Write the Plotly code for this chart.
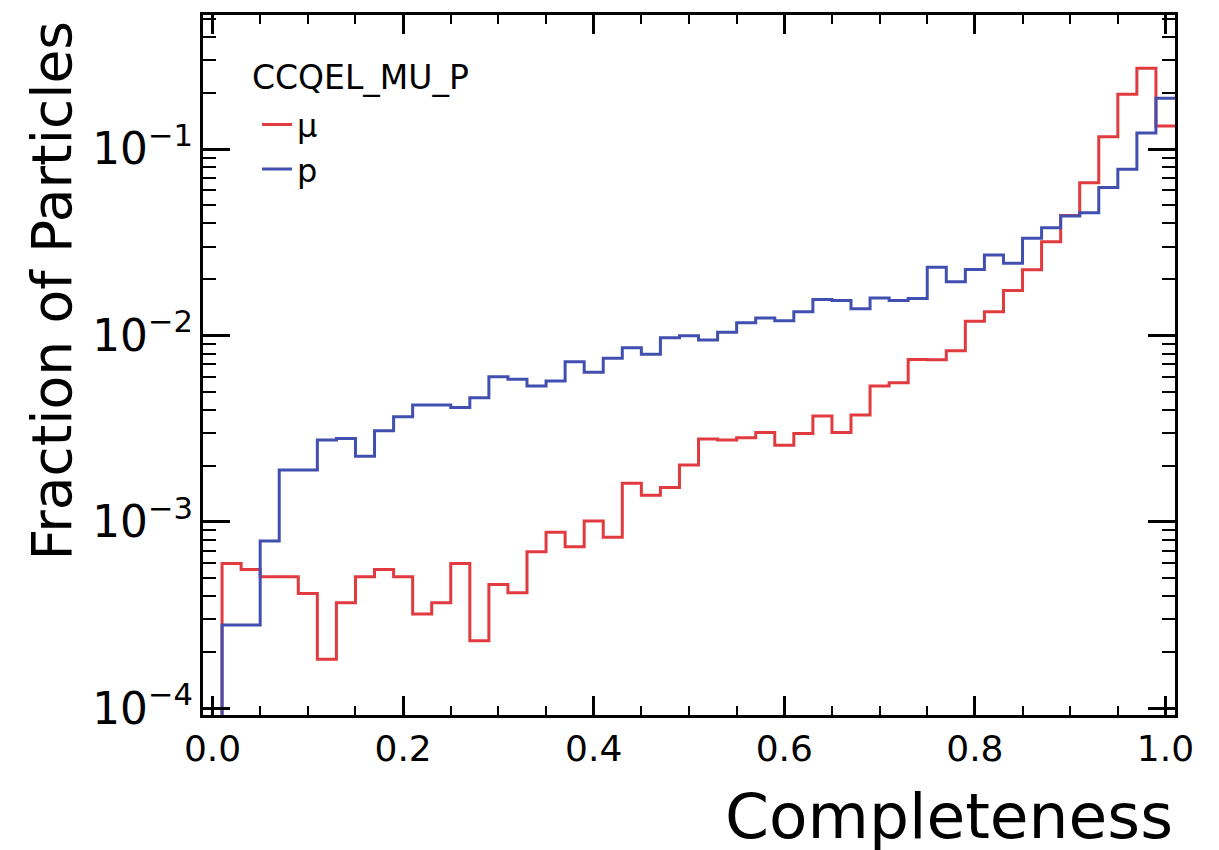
import plotly.graph_objects as go

# ---- data ----
bin_width = 0.02
bin_centers = [round(i * bin_width, 2) for i in range(51)]

mu_fraction = [
    0, 5.98e-4, 5.56e-4, 5.07e-4, 5.07e-4, 4.13e-4, 1.83e-4, 3.68e-4, 5.07e-4, 5.56e-4,
    5.07e-4, 3.2e-4, 3.68e-4, 5.98e-4, 2.3e-4, 4.62e-4, 4.17e-4, 6.92e-4, 8.79e-4, 7.35e-4,
    1.01e-3, 8.26e-4, 1.61e-3, 1.39e-3, 1.53e-3, 2.02e-3, 2.78e-3, 2.75e-3, 2.83e-3, 3.02e-3,
    2.58e-3, 2.98e-3, 3.70e-3, 3.02e-3, 3.74e-3, 5.36e-3, 5.58e-3, 7.44e-3, 7.4e-3, 8.28e-3,
    1.19e-2, 1.34e-2, 1.74e-2, 2.25e-2, 3.18e-2, 4.4e-2, 6.59e-2, 0.1165, 0.197, 0.271,
    0.133,
]
p_fraction = [
    0, 2.8e-4, 2.8e-4, 7.9e-4, 1.9e-3, 1.9e-3, 2.75e-3, 2.8e-3, 2.25e-3, 3.08e-3,
    3.66e-3, 4.24e-3, 4.24e-3, 4.11e-3, 4.63e-3, 6.0e-3, 5.83e-3, 5.36e-3, 5.69e-3, 7.23e-3,
    6.34e-3, 7.54e-3, 8.59e-3, 7.94e-3, 9.72e-3, 9.96e-3, 9.45e-3, 1.04e-2, 1.17e-2, 1.24e-2,
    1.20e-2, 1.34e-2, 1.56e-2, 1.54e-2, 1.39e-2, 1.59e-2, 1.54e-2, 1.58e-2, 2.32e-2, 1.94e-2,
    2.26e-2, 2.70e-2, 2.44e-2, 3.32e-2, 3.78e-2, 4.37e-2, 4.55e-2, 6.22e-2, 7.78e-2, 0.122,
    0.187,
]

x_tick_vals = [0.0, 0.2, 0.4, 0.6, 0.8, 1.0]
x_tick_text = ["0.0", "0.2", "0.4", "0.6", "0.8", "1.0"]

legend_title = "CCQEL_MU_P"
series_names = ["\u03bc", "p"]
series_colors = ["#e23b3f", "#4150b0"]

x_title = "Completeness"
y_title = "Fraction of Particles"

# ---- geometry / style ----
X_RANGE = [-0.01, 1.01]
Y_RANGE = [-4.036, -0.281]   # log10 units
FLOOR = 10 ** (Y_RANGE[0] - 1)
FONT = "DejaVu Sans"


def step_xy(centers, values):
    edges = [c - bin_width / 2 for c in centers] + [centers[-1] + bin_width / 2]
    vals = [v if v > 0 else FLOOR for v in values]
    return edges, vals + [vals[-1]]


fig = go.Figure()
for name, vals, col in zip(series_names, [mu_fraction, p_fraction], series_colors):
    xs, ys = step_xy(bin_centers, vals)
    fig.add_trace(go.Scatter(
        x=xs, y=ys, mode="lines", name=name,
        line=dict(color=col, width=3, shape="hv"),
    ))

axis_common = dict(
    showgrid=False, zeroline=False,
    showline=True, linecolor="black", linewidth=3, mirror="allticks",
    ticks="inside", tickcolor="black", tickwidth=2.5,
    automargin=False,
)

fig.update_xaxes(
    range=X_RANGE, tickvals=x_tick_vals, ticktext=x_tick_text, ticklen=19,
    ticklabelstandoff=0,
    tickfont=dict(family=FONT, size=36, color="black"),
    minor=dict(dtick=0.05, ticks="inside", ticklen=9, tickwidth=2, tickcolor="black"),
    **axis_common,
)
fig.update_yaxes(
    type="log", range=Y_RANGE, dtick=1, exponentformat="power", ticklen=27,
    ticklabelstandoff=0,
    tickfont=dict(family=FONT, size=35, color="black"),
    minor=dict(dtick="D1", ticks="inside", ticklen=13, tickwidth=2, tickcolor="black"),
    **axis_common,
)

# page body adds an 8px offset; the figure is sized to fit inside the window
fig.update_layout(
    width=1211, height=842,
    margin=dict(l=195, r=44, t=7, b=135),
    paper_bgcolor="white", plot_bgcolor="white",
    font=dict(family=FONT, color="black"),
    showlegend=True,
    legend=dict(
        x=0.0556, y=0.8826, xanchor="left", yanchor="top",
        bgcolor="rgba(0,0,0,0)", borderwidth=0,
        font=dict(family=FONT, size=32, color="black"),
        itemwidth=30, tracegroupgap=0,
    ),
    annotations=[
        dict(text=legend_title, xref="paper", yref="paper", x=0.0484, y=0.911,
             xanchor="left", yanchor="middle", showarrow=False,
             font=dict(family=FONT, size=33, color="black")),
        dict(text=x_title, xref="paper", yref="paper", x=1.0, y=-0.1455,
             xanchor="right", yanchor="middle", showarrow=False,
             font=dict(family=FONT, size=63, color="black")),
        dict(text=y_title, xref="paper", yref="paper", x=-0.1553, y=0.993,
             xanchor="center", yanchor="top", textangle=-90, showarrow=False,
             font=dict(family=FONT, size=55, color="black")),
    ],
)

fig.write_html("out.html")
